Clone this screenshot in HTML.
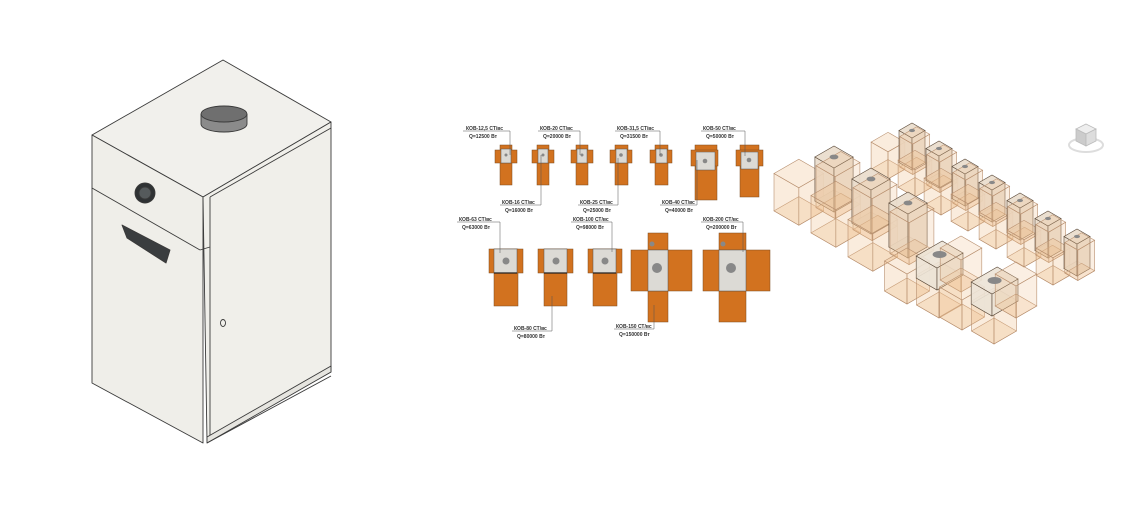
<!DOCTYPE html>
<html><head><meta charset="utf-8"><style>
html,body{margin:0;padding:0;background:#fff;width:1144px;height:516px;overflow:hidden}
svg{position:absolute;left:0;top:0}
.l{font-family:"Liberation Sans","Noto Sans CJK SC",sans-serif;font-size:5px;fill:#333;font-weight:bold}
</style></head><body>
<svg width="1144" height="516" viewBox="0 0 1144 516" xmlns="http://www.w3.org/2000/svg">
<!-- boiler -->
<g stroke="#3a3a3a" stroke-width="0.9" stroke-linejoin="round">
<polygon points="223,60 331,122 203,197 92,135" fill="#f1f0ec"/>
<polygon points="92,135 203,197 203,443 92,383" fill="#efeee9"/>
<polygon points="203,197 331,122 331,372 207,441" fill="#f0efea"/>
<line x1="210" y1="197" x2="210" y2="441"/>
<line x1="210" y1="197" x2="331" y2="128"/>
<line x1="92" y1="188" x2="200" y2="250"/>
<line x1="200" y1="250" x2="210" y2="247"/>
<polygon points="207,437 331,366 331,372 207,443" fill="#e6e5e0"/>
<line x1="207" y1="443" x2="331" y2="376"/>
<polygon points="122,225 170,250 166,263 127,238" fill="#3a3d3f"/>
<circle cx="145" cy="193" r="10" fill="#2f3234"/>
<circle cx="145" cy="193" r="6" fill="#555a5c"/>
<ellipse cx="223" cy="323" rx="2.5" ry="3.5" fill="#f0efea"/>
<path d="M201,114 v10 a23,8 0 0 0 46,0 v-10" fill="#8b8b8b"/>
<ellipse cx="224" cy="114" rx="23" ry="8" fill="#6f6f6f"/>
</g>
<!-- schematic -->
<g fill="#d2721f" stroke="#7a4a20" stroke-width="0.5">
<rect x="500" y="145" width="12" height="40"/><rect x="495" y="150" width="22" height="13"/>
<rect x="537" y="145" width="12" height="40"/><rect x="532" y="150" width="22" height="13"/>
<rect x="576" y="145" width="12" height="40"/><rect x="571" y="150" width="22" height="13"/>
<rect x="615" y="145" width="13" height="40"/><rect x="610" y="150" width="22" height="13"/>
<rect x="655" y="145" width="13" height="40"/><rect x="650" y="150" width="22" height="13"/>
<rect x="695" y="145" width="22" height="55"/><rect x="691" y="150" width="27" height="16"/>
<rect x="740" y="145" width="19" height="52"/><rect x="736" y="150" width="27" height="16"/>
<rect x="494" y="249" width="24" height="57"/><rect x="489" y="249" width="34" height="24"/>
<rect x="544" y="249" width="23" height="57"/><rect x="538" y="249" width="35" height="24"/>
<rect x="593" y="249" width="24" height="57"/><rect x="588" y="249" width="34" height="24"/>
<rect x="648" y="233" width="20" height="89"/><rect x="631" y="250" width="61" height="41"/>
<rect x="719" y="233" width="27" height="89"/><rect x="703" y="250" width="67" height="41"/>
</g>
<g fill="#dcdad5" stroke="#555" stroke-width="0.5">
<rect x="501" y="149" width="10" height="14"/><rect x="538" y="149" width="10" height="14"/>
<rect x="577" y="149" width="10" height="14"/><rect x="616" y="149" width="11" height="14"/>
<rect x="656" y="149" width="11" height="14"/><rect x="696" y="152" width="19" height="18"/>
<rect x="741" y="152" width="17" height="17"/>
<rect x="494" y="249" width="23" height="24"/><rect x="544" y="249" width="23" height="24"/>
<rect x="593" y="249" width="23" height="24"/>
<rect x="648" y="250" width="20" height="41"/><rect x="719" y="250" width="27" height="41"/>
</g>
<g fill="#888">
<circle cx="506" cy="155" r="1.5"/><circle cx="543" cy="155" r="1.5"/><circle cx="582" cy="155" r="1.5"/>
<circle cx="621" cy="155" r="1.8"/><circle cx="661" cy="155" r="1.8"/><circle cx="705" cy="161" r="2.3"/>
<circle cx="749" cy="160" r="2.3"/>
<circle cx="506" cy="261" r="3.5"/><circle cx="556" cy="261" r="3.5"/><circle cx="605" cy="261" r="3.5"/>
<circle cx="657" cy="268" r="5"/><circle cx="731" cy="268" r="5"/>
<circle cx="652" cy="244" r="2.5"/><circle cx="723" cy="244" r="2.5"/>
</g>
<g stroke="#222" stroke-width="1.2">
<line x1="494" y1="273" x2="517" y2="273"/><line x1="544" y1="273" x2="567" y2="273"/><line x1="593" y1="273" x2="616" y2="273"/>
</g>
<g stroke="#555" stroke-width="0.5" fill="none">
<polyline points="463,131 510,131 510,155"/>
<polyline points="538,131 580,131 580,155"/>
<polyline points="615,131 660,131 660,155"/>
<polyline points="701,131 745,131 745,156"/>
<polyline points="500,205 541,205 541,155"/>
<polyline points="578,205 618,205 618,158"/>
<polyline points="660,205 697,205 697,160"/>
<polyline points="457,222 500,222 500,253"/>
<polyline points="571,222 612,222 612,252"/>
<polyline points="701,222 743,222 743,252"/>
<polyline points="512,331 552,331 552,296"/>
<polyline points="614,329 654,329 654,305"/>
</g>
<text class="l" x="466" y="130">КОВ-12,5 СТ/вс</text><text class="l" x="469" y="138">Q=12500 Вт</text>
<text class="l" x="540" y="130">КОВ-20 СТ/вс</text><text class="l" x="543" y="138">Q=20000 Вт</text>
<text class="l" x="617" y="130">КОВ-31,5 СТ/вс</text><text class="l" x="620" y="138">Q=31500 Вт</text>
<text class="l" x="703" y="130">КОВ-50 СТ/вс</text><text class="l" x="706" y="138">Q=50000 Вт</text>
<text class="l" x="502" y="204">КОВ-16 СТ/вс</text><text class="l" x="505" y="212">Q=16000 Вт</text>
<text class="l" x="580" y="204">КОВ-25 СТ/вс</text><text class="l" x="583" y="212">Q=25000 Вт</text>
<text class="l" x="662" y="204">КОВ-40 СТ/вс</text><text class="l" x="665" y="212">Q=40000 Вт</text>
<text class="l" x="459" y="221">КОВ-63 СТ/вс</text><text class="l" x="462" y="229">Q=63000 Вт</text>
<text class="l" x="573" y="221">КОВ-100 СТ/вс</text><text class="l" x="576" y="229">Q=98000 Вт</text>
<text class="l" x="703" y="221">КОВ-200 СТ/вс</text><text class="l" x="706" y="229">Q=200000 Вт</text>
<text class="l" x="514" y="330">КОВ-80 СТ/вс</text><text class="l" x="517" y="338">Q=80000 Вт</text>
<text class="l" x="616" y="328">КОВ-150 СТ/вс</text><text class="l" x="619" y="336">Q=150000 Вт</text>
<g id="iso"></g>
<g stroke="#bbb" stroke-width="0.8">
<ellipse cx="1086" cy="145" rx="17" ry="7" fill="none" stroke-width="2" stroke="#ddd"/>
<polygon points="1086,124 1096,129 1086,134 1076,129" fill="#eee"/>
<polygon points="1076,129 1086,134 1086,146 1076,141" fill="#ccc"/>
<polygon points="1086,134 1096,129 1096,141 1086,146" fill="#ddd"/>
</g>
</svg>
<script>
(function(){
var g=document.getElementById('iso'),s='';
var c=0.866;
function P(x,y,X,Y,Z){return [x+(X-Y)*c,y-(X+Y)*0.5-Z];}
function box(x,y,w,d,h,fill,op,st){
 var A=P(x,y,0,0,0),B=P(x,y,w,0,0),C=P(x,y,w,d,0),D=P(x,y,0,d,0);
 var A2=P(x,y,0,0,h),B2=P(x,y,w,0,h),C2=P(x,y,w,d,h),D2=P(x,y,0,d,h);
 function pg(a,col){return '<polygon points="'+a.map(function(p){return p[0].toFixed(1)+','+p[1].toFixed(1)}).join(' ')+'" fill="'+col+'" fill-opacity="'+op+'" stroke="'+st+'" stroke-width="0.6"/>';}
 s+=pg([A,B,C,D],fill)+pg([D,A,A2,D2],fill)+pg([A,B,B2,A2],fill)+pg([A2,B2,C2,D2],fill);
}
function unit(x,y,sz,h){
 var cf='#f0c090';
 box(x-sz*1.6,y+sz*0.6,sz*1.3,sz*1.3,h*0.85,cf,0.3,'#b89070');
 box(x,y,sz,sz,h,'#e9dccb',0.9,'#5b4a3a');
 box(x+sz*0.05,y+sz*0.3,sz*1.3,sz*1.0,h*0.95,cf,0.25,'#b89070');
 var t=P(x,y,sz/2,sz/2,h);
 s+='<ellipse cx="'+t[0]+'" cy="'+t[1]+'" rx="'+(sz*0.2)+'" ry="'+(sz*0.11)+'" fill="#888"/>';
}
var back=[[912,170],[939,188],[965,206],[992,222],[1020,240],[1048,258],[1077,276]];
back.forEach(function(p){unit(p[0],p[1],15,32);});
[[834,212,22,44],[871,234,22,44],[908,258,22,44]].forEach(function(p){unit(p[0],p[1],p[2],p[3]);});
function wide(x,y){
 var cf='#f0c090';
 box(x-30,y+14,26,26,30,cf,0.3,'#b89070');
 box(x+2,y+28,26,26,30,cf,0.3,'#b89070');
 box(x,y,30,24,22,'#ece3d6',0.9,'#5b4a3a');
 box(x+24,y+2,24,24,32,cf,0.25,'#b89070');
 var t=P(x,y,15,12,22);
 s+='<ellipse cx="'+t[0]+'" cy="'+t[1]+'" rx="7" ry="3.5" fill="#888"/>';
}
wide(937,290);wide(992,316);
g.innerHTML=s;
})();
</script>
</body></html>
